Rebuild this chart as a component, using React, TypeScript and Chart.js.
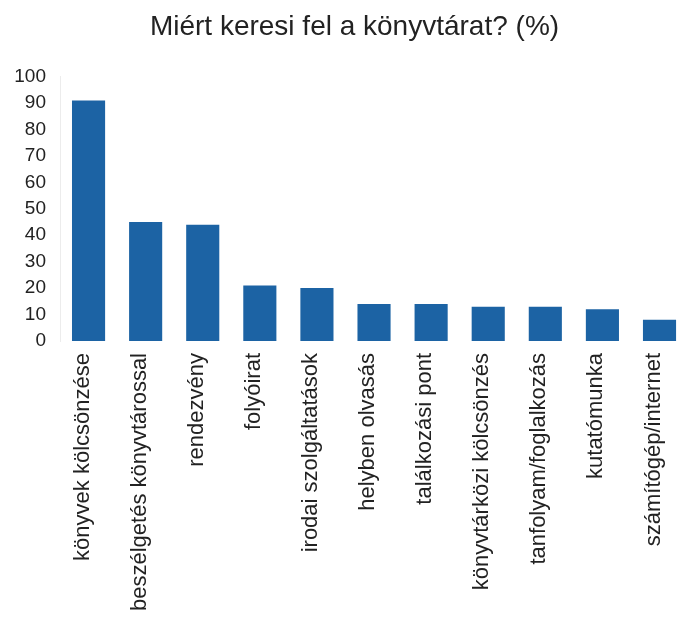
import React, { useEffect, useRef } from "react";
import { Chart, registerables } from "chart.js";

Chart.register(...registerables);

const categories = [
  "könyvek kölcsönzése",
  "beszélgetés könyvtárossal",
  "rendezvény",
  "folyóirat",
  "irodai szolgáltatások",
  "helyben olvasás",
  "találkozási pont",
  "könyvtárközi kölcsönzés",
  "tanfolyam/foglalkozás",
  "kutatómunka",
  "számítógép/internet",
];
const values = [91, 45, 44, 21, 20, 14, 14, 13, 13, 12, 8];
const yMin = 0;
const yMax = 100;
const yStep = 10;
const titleText = "Miért keresi fel a könyvtárat? (%)";

const FONT = "'Liberation Sans', Arial, sans-serif";

export default function App() {
  const ref = useRef<HTMLCanvasElement | null>(null);
  useEffect(() => {
    document.body.style.margin = "0";
    const canvas = ref.current!;
    const chart = new Chart(canvas, {
      type: "bar",
      data: {
        labels: categories,
        datasets: [
          {
            data: values,
            backgroundColor: "#1c63a4",
            borderWidth: 0,
            barPercentage: 0.58,
            categoryPercentage: 1,
          },
        ],
      },
      options: {
        responsive: false,
        animation: false,
        layout: { padding: { left: 13, right: 2, top: 0, bottom: 0 } },
        plugins: {
          legend: { display: false },
          tooltip: { enabled: false },
          title: {
            display: true,
            text: titleText,
            color: "#222",
            font: { family: FONT, size: 28, weight: "normal" },
            padding: { top: 10, bottom: 33 },
          },
        },
        scales: {
          x: {
            grid: { display: false, drawTicks: false },
            border: { display: false },
            ticks: {
              color: "#222",
              font: { family: FONT, size: 22 },
              minRotation: 90,
              maxRotation: 90,
              padding: 12,
              labelOffset: -6,
              autoSkip: false,
            },
            afterFit: (scale: any) => {
              scale.height = 279;
            },
          },
          y: {
            min: yMin,
            max: yMax,
            grid: { display: false, drawTicks: false },
            border: { display: true, color: "#ececec", dash: [2, 3] },
            ticks: {
              stepSize: yStep,
              color: "#222",
              font: { family: FONT, size: 19 },
              padding: 14,
            },
            afterFit: (scale: any) => {
              scale.width = 47;
            },
          },
        },
      },
    });
    return () => chart.destroy();
  }, []);
  return (
    <div
      style={{
        position: "absolute",
        left: 0,
        top: 0,
        width: 680,
        height: 620,
        overflow: "hidden",
        background: "#fff",
      }}
    >
      <canvas ref={ref} width={698} height={620} style={{ width: 698, height: 620 }} />
    </div>
  );
}
